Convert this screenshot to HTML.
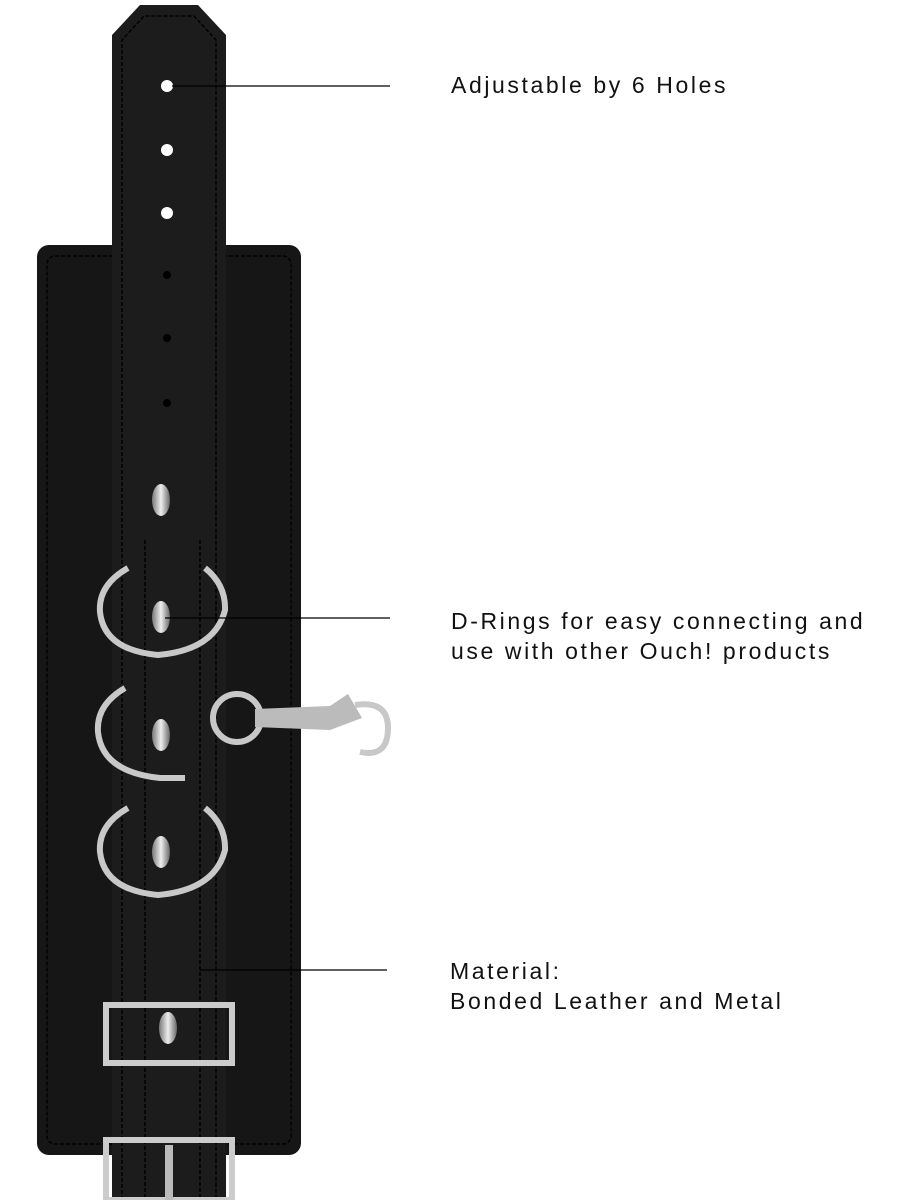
<!DOCTYPE html>
<html><head><meta charset="utf-8"><style>
html,body{margin:0;padding:0;background:#fff;width:901px;height:1200px;overflow:hidden}
.t{position:absolute;font-family:"Liberation Sans",sans-serif;font-size:23px;color:#111;letter-spacing:2.6px;line-height:30px;white-space:nowrap}
</style></head><body>
<svg width="901" height="1200" style="position:absolute;left:0;top:0">
<defs>
<linearGradient id="m" x1="0" x2="1"><stop offset="0" stop-color="#777"/><stop offset=".5" stop-color="#eee"/><stop offset="1" stop-color="#666"/></linearGradient>
</defs>
<rect x="37" y="245" width="264" height="910" rx="12" fill="#161616"/>
<rect x="47" y="256" width="244" height="888" rx="8" fill="none" stroke="#000" stroke-width="1.5" stroke-dasharray="4 2"/>
<path d="M112 1200 V35 L140 5 H198 L226 35 V1200 Z" fill="#1c1c1c"/>
<path d="M122 1200 V40 L144 16 H194 L216 40 V1200" fill="none" stroke="#000" stroke-width="1.5" stroke-dasharray="4 2"/>
<path d="M145 540 V1200 M200 540 V1200" stroke="#000" stroke-width="1.5" stroke-dasharray="4 2"/>
<circle cx="167" cy="86" r="6" fill="#fff"/><circle cx="167" cy="150" r="6" fill="#fff"/><circle cx="167" cy="213" r="6" fill="#fff"/>
<circle cx="167" cy="275" r="4" fill="#000"/><circle cx="167" cy="338" r="4" fill="#000"/><circle cx="167" cy="403" r="4" fill="#000"/>
<g fill="none" stroke="#c8c8c8" stroke-width="6">
<path d="M128 568 Q98 585 100 612 Q104 650 158 655 Q215 650 225 610 Q226 585 205 568"/>
<path d="M125 688 Q96 705 98 732 Q102 772 160 778 L185 778"/>
<path d="M128 808 Q98 825 100 852 Q104 890 158 895 Q215 890 225 850 Q226 825 205 808"/>
<circle cx="237" cy="718" r="24"/>
<path d="M355 705 Q388 700 388 728 Q388 758 360 752"/>
</g>
<path d="M255 709 L330 706 L348 694 L362 718 L330 730 L255 727Z" fill="#bbb"/>
<g fill="url(#m)"><ellipse cx="161" cy="500" rx="9" ry="16"/><ellipse cx="161" cy="617" rx="9" ry="16"/><ellipse cx="161" cy="735" rx="9" ry="16"/><ellipse cx="161" cy="852" rx="9" ry="16"/><ellipse cx="168" cy="1028" rx="9" ry="16"/></g>
<rect x="106" y="1005" width="126" height="58" fill="none" stroke="#ccc" stroke-width="6"/>
<rect x="106" y="1140" width="126" height="60" fill="none" stroke="#ccc" stroke-width="6"/>
<rect x="165" y="1145" width="8" height="55" fill="#bbb"/>
<g stroke="#000" stroke-width="1.3">
<line x1="172" y1="86" x2="390" y2="86"/>
<line x1="165" y1="618" x2="390" y2="618"/>
<line x1="200" y1="970" x2="387" y2="970"/>
</g>
</svg>
<div class="t" style="left:451px;top:70px">Adjustable by 6 Holes</div>
<div class="t" style="left:451px;top:606px">D-Rings for easy connecting and<br>use with other Ouch! products</div>
<div class="t" style="left:450px;top:956px">Material:<br>Bonded Leather and Metal</div>
</body></html>
